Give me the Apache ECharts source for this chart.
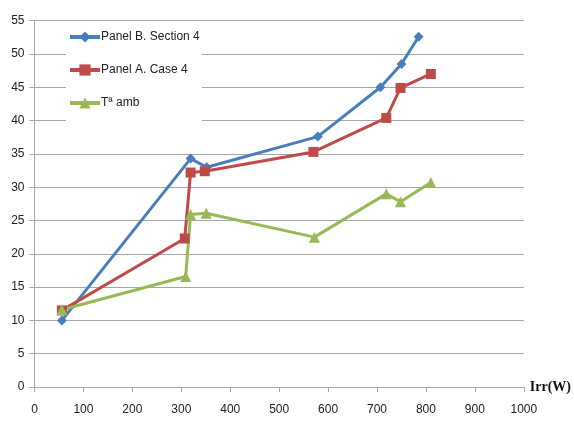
<!DOCTYPE html>
<html>
<head>
<meta charset="utf-8">
<script src="https://cdn.jsdelivr.net/npm/echarts@6/dist/echarts.min.js"></script>
<style>
  html, body { margin: 0; padding: 0; background: #ffffff; }
  #chart { width: 574px; height: 425px; }
</style>
</head>
<body>
<div id="chart"></div>
<script>
// Irradiance (W) against temperature for each measurement set
const seriesNames = ['Panel B. Section 4', 'Panel A. Case 4', 'Tª amb'];

const panelBIrr  = [56, 319, 352, 579, 707, 750, 785];
const panelBTemp = [10, 34.3, 33.0, 37.6, 45.0, 48.5, 52.6];

const panelAIrr  = [56, 307, 319, 348, 570, 719, 748, 810];
const panelATemp = [11.5, 22.3, 32.2, 32.4, 35.3, 40.4, 44.9, 47.0];

const ambIrr  = [56, 309, 319, 351, 572, 719, 748, 810];
const ambTemp = [11.6, 16.6, 25.9, 26.1, 22.5, 29.0, 27.8, 30.7];

const xTicks = [0, 1000, 100];   // min, max, step
const yTicks = [0, 55, 5];

const pairs = (xs, ys) => xs.map((x, i) => [x, ys[i]]);

const labelFont = { fontFamily: 'Liberation Sans', fontSize: 12, color: '#222' };
const gridGrey = '#a6a6a6';

const chart = echarts.init(document.getElementById('chart'), null, { renderer: 'canvas' });

const lineSeries = (name, data, color, symbol, size) => ({
  name: name,
  type: 'line',
  data: data,
  symbol: symbol,
  symbolSize: size,
  lineStyle: { color: color, width: 3 },
  itemStyle: { color: color },
  animation: false
});

chart.setOption({
  backgroundColor: '#ffffff',
  animation: false,
  grid: { left: 34.5, right: 49.5, top: 20.7, bottom: 38, containLabel: false },
  legend: {
    orient: 'vertical',
    left: 66,
    top: 25,
    padding: [6, 2, 14, 2],
    itemGap: 21,
    itemWidth: 30,
    itemHeight: 14,
    lineStyle: { width: 4 },
    backgroundColor: '#ffffff',
    textStyle: { fontFamily: 'Liberation Sans', fontSize: 12, color: '#222', padding: [0, 0, 0, -4] },
    data: seriesNames
  },
  xAxis: {
    type: 'value',
    min: xTicks[0],
    max: xTicks[1],
    interval: xTicks[2],
    name: 'Irr(W)',
    nameLocation: 'end',
    nameGap: 6,
    nameTextStyle: { fontFamily: 'Liberation Serif', fontWeight: 'bold', fontSize: 14, color: '#111', verticalAlign: 'middle' },
    axisLine: { show: true, lineStyle: { color: gridGrey, width: 1 } },
    axisTick: { show: true, length: 5, inside: false, lineStyle: { color: gridGrey } },
    axisLabel: Object.assign({ margin: 17, formatter: v => String(v) }, labelFont),
    splitLine: { show: false }
  },
  yAxis: {
    type: 'value',
    min: yTicks[0],
    max: yTicks[1],
    interval: yTicks[2],
    axisLine: { show: true, lineStyle: { color: gridGrey, width: 1 } },
    axisTick: { show: true, length: 5, inside: false, lineStyle: { color: gridGrey } },
    axisLabel: Object.assign({ margin: 10 }, labelFont),
    splitLine: { show: true, lineStyle: { color: gridGrey, width: 1 } }
  },
  series: [
    lineSeries(seriesNames[0], pairs(panelBIrr, panelBTemp), '#4a7ebb', 'diamond', 10),
    lineSeries(seriesNames[1], pairs(panelAIrr, panelATemp), '#be4b48', 'rect', 10),
    lineSeries(seriesNames[2], pairs(ambIrr, ambTemp), '#98b954', 'triangle', 11)
  ]
});
</script>
</body>
</html>
